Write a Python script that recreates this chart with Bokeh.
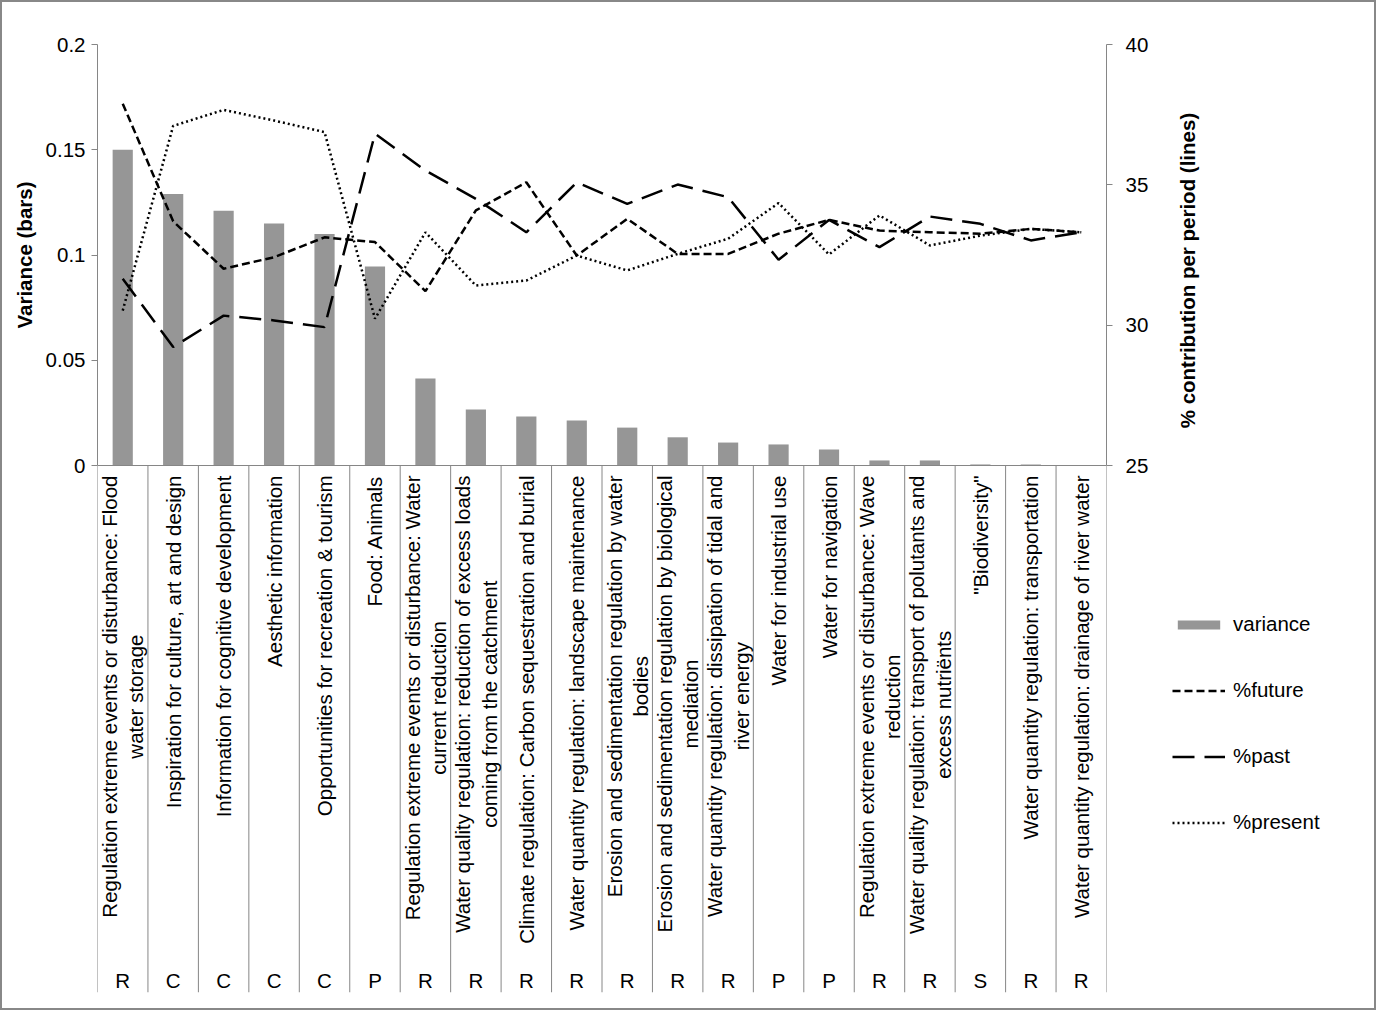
import math
from bokeh.plotting import figure
from bokeh.layouts import row
from bokeh.models import (FactorRange, Range1d, LinearAxis, FixedTicker, PrintfTickFormatter,
                          Span, Legend, LegendItem, ColumnDataSource)
from bokeh.transform import dodge
from bokeh.core.properties import value
from bokeh.embed import file_html
from bokeh.resources import INLINE

# ---------------- data ----------------
categories = [
    "Regulation extreme events or disturbance: Flood water storage",
    "Inspiration for culture, art and design",
    "Information for cognitive development",
    "Aesthetic information",
    "Opportunities for recreation & tourism",
    "Food: Animals",
    "Regulation extreme events or disturbance: Water current reduction",
    "Water quality regulation: reduction of excess loads coming from the catchment",
    "Climate regulation: Carbon sequestration and burial",
    "Water quantity regulation: landscape maintenance",
    "Erosion and sedimentation regulation by water bodies",
    "Erosion and sedimentation regulation by biological mediation",
    "Water quantity regulation: dissipation of tidal and river energy",
    "Water for industrial use",
    "Water for navigation",
    "Regulation extreme events or disturbance: Wave reduction",
    "Water quality regulation: transport of polutants and excess nutriënts",
    "\"Biodiversity\"",
    "Water quantity regulation: transportation",
    "Water quantity regulation: drainage of river water",
]
tick_labels = [
    "Regulation extreme events or disturbance: Flood\nwater storage",
    "Inspiration for culture, art and design",
    "Information for cognitive development",
    "Aesthetic information",
    "Opportunities for recreation & tourism",
    "Food: Animals",
    "Regulation extreme events or disturbance: Water\ncurrent reduction",
    "Water quality regulation: reduction of excess loads\ncoming from the catchment",
    "Climate regulation: Carbon sequestration and burial",
    "Water quantity regulation: landscape maintenance",
    "Erosion and sedimentation regulation by water\nbodies",
    "Erosion and sedimentation regulation by biological\nmediation",
    "Water quantity regulation: dissipation of tidal and\nriver energy",
    "Water for industrial use",
    "Water for navigation",
    "Regulation extreme events or disturbance: Wave\nreduction",
    "Water quality regulation: transport of polutants and\nexcess nutriënts",
    "\"Biodiversity\"",
    "Water quantity regulation: transportation",
    "Water quantity regulation: drainage of river water",
]
groups = ["R", "C", "C", "C", "C", "P", "R", "R", "R", "R",
          "R", "R", "R", "P", "P", "R", "R", "S", "R", "R"]
variance = [0.150, 0.129, 0.121, 0.115, 0.110, 0.0945, 0.0413, 0.0266, 0.0233, 0.0214,
            0.018, 0.0134, 0.0109, 0.0100, 0.0076, 0.0024, 0.0024, 0.0005, 0.0005, 0.0]
future = [37.89, 33.70, 32.01, 32.42, 33.13, 32.96, 31.21, 34.09, 35.09, 32.48,
          33.79, 32.54, 32.54, 33.26, 33.75, 33.37, 33.31, 33.26, 33.43, 33.31]
past = [31.65, 29.22, 30.34, 30.17, 29.93, 36.82, 35.51, 34.50, 33.31, 35.09,
        34.32, 35.01, 34.56, 32.33, 33.75, 32.78, 33.87, 33.61, 33.02, 33.31]
present = [30.52, 37.10, 37.67, 37.29, 36.88, 30.23, 33.31, 31.41, 31.59, 32.48,
           31.95, 32.54, 33.08, 34.35, 32.52, 33.91, 32.84, 33.19, 33.43, 33.31]
left_ticks = [0, 0.05, 0.1, 0.15, 0.2]
right_ticks = [25, 30, 35, 40]
left_title = "Variance (bars)"
right_title = "% contribution per  period  (lines)"
series_names = ["variance", "%future", "%past", "%present"]

# ---------------- layout (page pixels) ----------------
OX = OY = 2                         # outer border width
W_IN, H_IN = 1372, 1006             # content size inside the border
PLOT_L, PLOT_R = 97, 1106           # frame x extent
TOP, ZERO, BOTTOM = 44, 465, 992    # frame top, value zero line, frame bottom
L_W = 40                            # strip holding the left title
M_MR = 60                           # room for right tick labels
M_W = PLOT_R - (OX + L_W) + M_MR
T_X0 = OX + L_W + M_W
T_W = W_IN - L_W - M_W
LEFT_TITLE_X, RIGHT_TITLE_X = 24, 1187
RIGHT_TITLE_Y = 32.15               # in % units
LEGEND_X, LEGEND_BOTTOM = 1172, 834

FONT = "Liberation Sans"
GRAY = "#868686"
FS = "20.5px"

MB = OY + H_IN - BOTTOM
MT = TOP - OY
FRAME_H = BOTTOM - TOP
VALUE_H = ZERO - TOP
Y_END = 0.2
Y_START = Y_END - Y_END * FRAME_H / VALUE_H
R_END, R_LOW = 40, 25
R_START = R_END - (R_END - R_LOW) * FRAME_H / VALUE_H

y_left = Range1d(Y_START, Y_END)
y_pct = Range1d(R_START, R_END)

src = ColumnDataSource(dict(cat=categories, lab=tick_labels, grp=groups, variance=variance,
                            future=future, past=past, present=present))
last = ColumnDataSource(dict(cat=categories[-1:]))


def bare(fig):
    fig.outline_line_color = None
    fig.grid.visible = False
    fig.background_fill_color = "white"
    fig.border_fill_color = "white"


# ---------------- main figure ----------------
p = figure(width=M_W, height=H_IN, x_range=FactorRange(factors=categories),
           y_range=y_left, x_axis_location=None,
           toolbar_location=None, output_backend="svg",
           min_border_left=PLOT_L - OX - L_W, min_border_right=M_MR,
           min_border_top=MT, min_border_bottom=MB)
bare(p)
p.extra_y_ranges = {"pct": y_pct}


def style_axis(ax):
    ax.axis_line_color = GRAY
    ax.major_tick_line_color = GRAY
    ax.minor_tick_line_color = None
    ax.major_tick_out = 6
    ax.major_tick_in = 0
    ax.major_label_text_font = FONT
    ax.major_label_text_font_size = FS
    ax.major_label_text_color = "black"


yl = p.yaxis[0]
yl.ticker = FixedTicker(ticks=left_ticks)
yl.formatter = PrintfTickFormatter(format="%g")
yl.bounds = (0, 0.2)
style_axis(yl)
yl.major_label_standoff = 6

yr = LinearAxis(y_range_name="pct", ticker=FixedTicker(ticks=right_ticks))
yr.bounds = (25, 40)
style_axis(yr)
yr.major_label_standoff = 13
p.add_layout(yr, "right")

# category axis line and separators
p.add_layout(Span(location=0, dimension="width", line_color=GRAY, line_width=1))
p.segment(x0=dodge("cat", -0.5, range=p.x_range), y0=0,
          x1=dodge("cat", -0.5, range=p.x_range), y1=Y_START,
          source=src, line_color=GRAY, line_width=1)
p.segment(x0=dodge("cat", 0.5, range=p.x_range), y0=0,
          x1=dodge("cat", 0.5, range=p.x_range), y1=Y_START,
          source=last, line_color=GRAY, line_width=1)

BAR_STYLE = dict(fill_color="#969696", line_color=None)
FUT_STYLE = dict(line_color="black", line_width=2.5, line_dash="8 4")
PAST_STYLE = dict(line_color="black", line_width=2.5, line_dash="22 10")
PRES_STYLE = dict(line_color="black", line_width=2.5, line_dash="2 3")

p.vbar(x="cat", top="variance", width=0.4, source=src, **BAR_STYLE)
p.line(x="cat", y="future", source=src, y_range_name="pct", **FUT_STYLE)
p.line(x="cat", y="past", source=src, y_range_name="pct", **PAST_STYLE)
p.line(x="cat", y="present", source=src, y_range_name="pct", **PRES_STYLE)

# category labels and group letters
p.text(x="cat", y=0, text="lab", source=src, angle=math.pi / 2, anchor="center_right",
       text_align="center", y_offset=10, text_font=value(FONT), text_font_size=FS,
       text_color="black", text_line_height=1.15)
p.text(x="cat", y=Y_START, text="grp", source=src, text_align="center",
       text_baseline="middle", y_offset=-12, text_font=value(FONT),
       text_font_size=FS, text_color="black")

# ---------------- left strip: left axis title ----------------
pl = figure(width=L_W, height=H_IN, x_range=Range1d(0, L_W), y_range=y_left,
            x_axis_location=None, y_axis_location=None,
            toolbar_location=None, output_backend="svg",
            min_border_left=0, min_border_right=0, min_border_top=MT, min_border_bottom=MB)
bare(pl)
pl.text(x=[LEFT_TITLE_X - OX], y=[sum(yl.bounds) / 2], text=[left_title], angle=math.pi / 2,
        text_align="center", text_baseline="middle", text_font=value(FONT),
        text_font_size=FS, text_font_style="bold", text_color="black")

# ---------------- right strip: right axis title and legend ----------------
pt = figure(width=T_W, height=H_IN, x_range=Range1d(0, T_W), y_range=y_pct,
            x_axis_location=None, y_axis_location=None,
            toolbar_location=None, output_backend="svg",
            min_border_left=0, min_border_right=0, min_border_top=MT, min_border_bottom=MB)
bare(pt)
pt.text(x=[RIGHT_TITLE_X - T_X0], y=[RIGHT_TITLE_Y], text=[right_title], angle=math.pi / 2,
        text_align="center", text_baseline="middle", text_font=value(FONT),
        text_font_size=FS, text_font_style="bold", text_color="black")

# legend keys: renderers whose single point is undefined (NaN), so they draw no mark,
# styled like the marks of the main figure
nan = float("nan")
k_bar = pt.vbar(x=[nan], top=[nan], width=1, **BAR_STYLE)
k_fut = pt.line(x=[nan], y=[nan], **FUT_STYLE)
k_past = pt.line(x=[nan], y=[nan], **PAST_STYLE)
k_pres = pt.line(x=[nan], y=[nan], **PRES_STYLE)
legend = Legend(items=[LegendItem(label=n, renderers=[r]) for n, r in
                       zip(series_names, [k_bar, k_fut, k_past, k_pres])],
                location=(LEGEND_X - T_X0, BOTTOM - LEGEND_BOTTOM),
                glyph_width=53, glyph_height=11, spacing=42,
                label_standoff=8, padding=0, margin=0, border_line_color=None,
                background_fill_alpha=0, label_text_font=FONT, label_text_font_size=FS,
                label_text_color="black", label_height=12)
pt.add_layout(legend)

layout = row(pl, p, pt, spacing=0, styles={"border": "2px solid #888888"})
open("out.html", "w").write(file_html(layout, INLINE))
